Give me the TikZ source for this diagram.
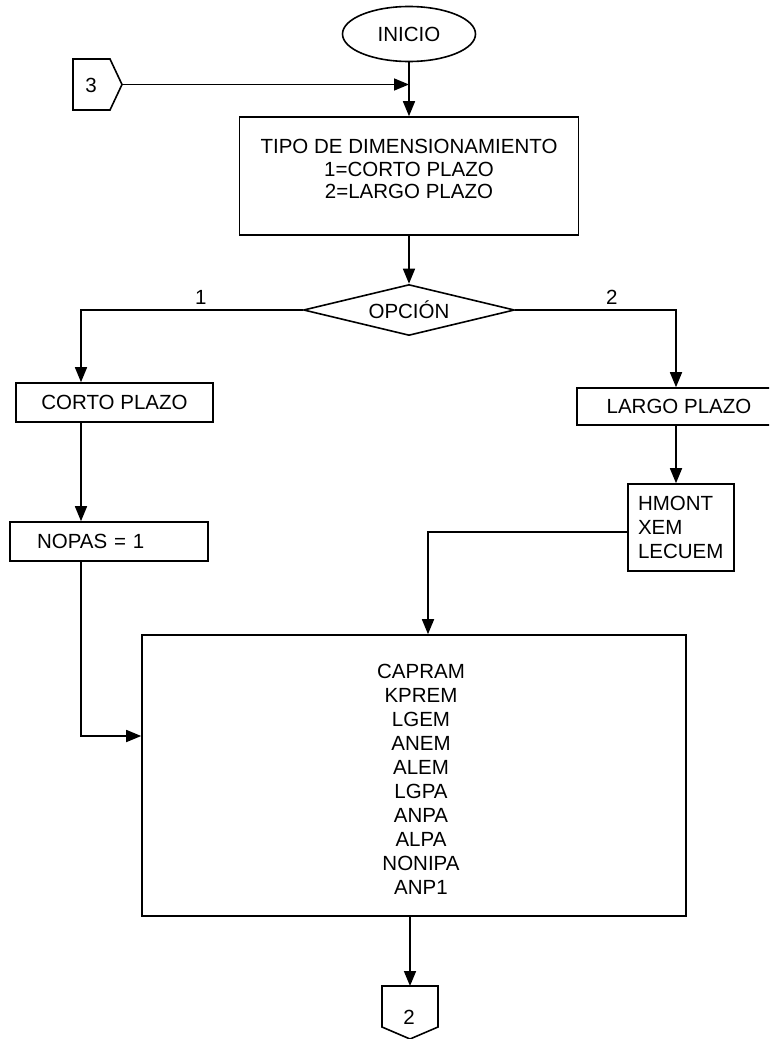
\documentclass[tikz,border=0pt]{standalone}
\usepackage{fontspec}
\setmainfont{Liberation Sans}
\usetikzlibrary{shapes.geometric,arrows.meta,calc}
\tikzset{
	box/.style={shape=rectangle, draw, line width=1.6pt, inner sep=0pt, align=center},
	wire/.style={line width=1.6pt},
	flow/.style={wire, -{Triangle[length=15pt,width=12pt]}},
	txt/.style={font=\fontsize{20.5}{22.5}\selectfont},
	tall/.style={font=\fontsize{20.5}{24}\selectfont, align=center}
}
\begin{document}
\begin{tikzpicture}[x=1pt, y=-1pt, txt]
	\clip (0,0) rectangle (769,1039);
	\fill[white] (0,0) rectangle (769,1039);
	% Paths, nodes and wires:
	\node[shape=ellipse, draw, line width=1.6pt, minimum width=133pt, minimum height=55pt, inner sep=0pt] (inicio) at (409, 34){INICIO};
	\draw[wire] (73, 59) -- (110, 59) -- (122, 84.5) -- (110, 110) -- (73, 110) -- cycle;
	\node (c3) at (91, 85.5){3};
	\coordinate (c3tip) at (122, 84.5);
	\node[box, minimum width=339pt, minimum height=118pt] (tipo) at (409, 176){};
	\node[align=center] (tipotxt) at (409, 169){TIPO DE DIMENSIONAMIENTO\\1=CORTO PLAZO\\2=LARGO PLAZO};
	\node[shape=diamond, draw, line width=1.6pt, aspect=4.1, minimum width=211pt, minimum height=51pt, inner sep=1pt] (opcion) at (409, 310){OPCIÓN};
	\node[box, minimum width=197pt, minimum height=39pt] (corto) at (114.5, 402.5){CORTO PLAZO};
	\node[box, minimum width=204pt, minimum height=37pt] (largo) at (679, 406.5){LARGO PLAZO};
	\node[box, align=left, text width=144pt, inner xsep=27pt, minimum height=39pt] (nopas) at (109, 541.5){NOPAS = 1};
	\node[box, tall, align=left, text width=86pt, inner xsep=10pt, minimum height=87pt] (hmont) at (681, 527.5){HMONT\\XEM\\LECUEM};
	\node[box, minimum width=544pt, minimum height=281pt] (datos) at (414, 775.5){};
	\node[tall] (datostxt) at (421, 779){CAPRAM\\KPREM\\LGEM\\ANEM\\ALEM\\LGPA\\ANPA\\ALPA\\NONIPA\\ANP1};
	\draw[wire] (382, 986) -- (438, 986) -- (438, 1027) -- (410, 1039) -- (382, 1027) -- cycle;
	\node (c2) at (409, 1017){2};
	\coordinate (c2top) at (410, 986);
	\coordinate (lx) at (81, 0);
	\coordinate (rx) at (676, 0);
	\coordinate (mx) at (428, 0);
	\draw[flow] (inicio.south) -- (tipo.north);
	\draw[flow] (c3tip) -- (c3tip -| inicio.south);
	\draw[flow] (tipo.south) -- (opcion.north);
	\draw[flow] (opcion.west) -| (lx |- corto.north) node[pos=0.23, above=1pt]{1};
	\draw[flow] (opcion.east) -| (rx |- largo.north) node[pos=0.3, above=1pt]{2};
	\draw[flow] (lx |- corto.south) -- (lx |- nopas.north);
	\draw[flow] (rx |- largo.south) -- (rx |- hmont.north);
	\draw[flow] (lx |- nopas.south) |- ([yshift=39.5pt]datos.west);
	\draw[flow] ([yshift=-4.5pt]hmont.west) -| (mx |- datos.north);
	\draw[flow] (c2top |- datos.south) -- (c2top);
\end{tikzpicture}
\end{document}
